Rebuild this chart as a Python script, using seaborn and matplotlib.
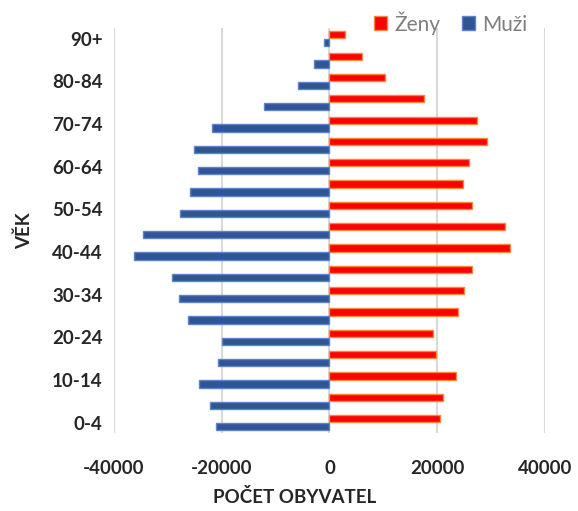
import matplotlib
matplotlib.use("Agg")
import matplotlib.pyplot as plt
from matplotlib.patches import Patch
import pandas as pd
import seaborn as sns

# age groups, youngest first
ages = ["0-4", "5-9", "10-14", "15-19", "20-24", "25-29", "30-34", "35-39",
        "40-44", "45-49", "50-54", "55-59", "60-64", "65-69", "70-74",
        "75-79", "80-84", "85-89", "90+"]
zeny = [20500, 21000, 23400, 19800, 19200, 23900, 25000, 26400, 33500,
        32600, 26400, 24800, 25900, 29300, 27300, 17600, 10300, 6000, 2900]
muzi = [21000, 22100, 24200, 20700, 19900, 26200, 27900, 29300, 36200,
        34600, 27800, 25800, 24400, 25100, 21800, 12200, 5900, 2900, 1000]
x_ticks = [-40000, -20000, 0, 20000, 40000]

df = pd.concat([
    pd.DataFrame({"Věk": ages, "Počet": zeny, "Pohlaví": "Ženy"}),
    pd.DataFrame({"Věk": ages, "Počet": [-v for v in muzi], "Pohlaví": "Muži"}),
])

sns.set_style("white")
plt.rcParams["font.family"] = ["Lato", "DejaVu Sans"]

fig = plt.figure(figsize=(5.78, 5.11), dpi=100)
ax = fig.add_axes([0.197, 0.152, 0.746, 0.793])

order = ages[::-1]
colors = {"Ženy": "#ff0000", "Muži": "#2f5597"}
edges = {"Ženy": "#f08a3c", "Muži": "#5b84cc"}
sns.barplot(data=df, y="Věk", x="Počet", hue="Pohlaví", order=order,
            hue_order=["Ženy", "Muži"], palette=colors, saturation=1,
            orient="h", width=0.74, gap=0.08, legend=False, ax=ax, zorder=3)
for cont, name in zip(ax.containers, ["Ženy", "Muži"]):
    for bar in cont:
        bar.set_edgecolor(edges[name])
        bar.set_linewidth(1.0)

ax.set_xlim(-40000, 40000)
ax.set_xticks(x_ticks)
ax.set_xticklabels([str(t) for t in x_ticks], fontsize=13.5, fontweight="bold")
ax.set_yticks(range(0, len(order), 2))
ax.set_yticklabels(order[::2], fontsize=13.5, fontweight="bold")
ax.set_ylim(len(order) - 0.5, -0.5)
ax.tick_params(axis="y", length=0, pad=8)
ax.tick_params(axis="x", length=0, pad=19)
ax.grid(axis="x", color="#d9d9d9", linewidth=1.5, zorder=0)
ax.set_axisbelow(True)
for s in ax.spines.values():
    s.set_visible(False)

ax.set_xlabel("POČET OBYVATEL", fontsize=13.5, fontweight="bold")
ax.xaxis.set_label_coords(0.42, -0.135)
ax.set_ylabel("VĚK", fontsize=13.5, fontweight="bold", labelpad=14)

handles = [Patch(facecolor=colors[k], edgecolor=edges[k]) for k in ["Ženy", "Muži"]]
leg = fig.legend(handles, ["Ženy", "Muži"], loc="upper right", ncol=2,
                 bbox_to_anchor=(0.945, 1.015), frameon=False, fontsize=15,
                 handlelength=0.65, handleheight=0.65, handletextpad=0.35,
                 columnspacing=1.0)
for t in leg.get_texts():
    t.set_color("#7f7f7f")

fig.savefig("out.png", dpi=100)
